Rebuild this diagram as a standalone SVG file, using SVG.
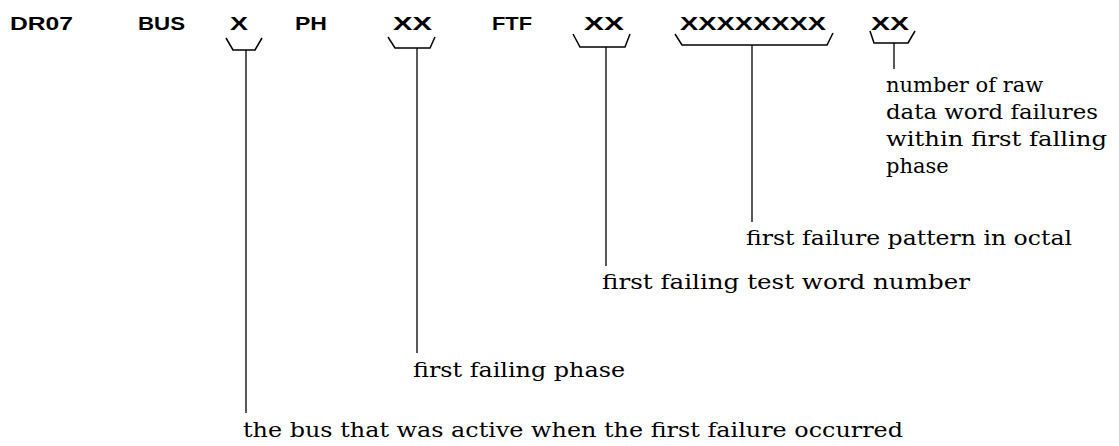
<svg xmlns="http://www.w3.org/2000/svg" width="1119" height="446" viewBox="0 0 1119 446">
  <style>
    .hdr { font-family: "Liberation Sans", Arial, sans-serif; font-weight: bold; font-size: 18px; fill: #000; }
    .lbl { font-family: "DejaVu Serif", "Liberation Serif", serif; font-size: 21px; fill: #000; }
    .brace { fill: none; stroke: #000; stroke-width: 1.5; stroke-linejoin: miter; }
    .lead { fill: none; stroke: #000; stroke-width: 1.3; }
  </style>
  <rect width="1119" height="446" fill="#fff"/>

  <!-- message fields -->
  <g id="field-dr07"><text class="hdr" x="10" y="30" textLength="63" lengthAdjust="spacingAndGlyphs">DR07</text></g>
  <g id="field-bus"><text class="hdr" x="138" y="30" textLength="47" lengthAdjust="spacingAndGlyphs">BUS</text></g>
  <g id="field-bus-value"><text class="hdr" x="230" y="30" textLength="18" lengthAdjust="spacingAndGlyphs">X</text></g>
  <g id="field-ph"><text class="hdr" x="295" y="30" textLength="32" lengthAdjust="spacingAndGlyphs">PH</text></g>
  <g id="field-ph-value"><text class="hdr" x="393" y="30" textLength="39" lengthAdjust="spacingAndGlyphs">XX</text></g>
  <g id="field-ftf"><text class="hdr" x="492" y="30" textLength="40" lengthAdjust="spacingAndGlyphs">FTF</text></g>
  <g id="field-ftf-value"><text class="hdr" x="584" y="30" textLength="40" lengthAdjust="spacingAndGlyphs">XX</text></g>
  <g id="field-pattern"><text class="hdr" x="680" y="30" textLength="146" lengthAdjust="spacingAndGlyphs">XXXXXXXX</text></g>
  <g id="field-count"><text class="hdr" x="871" y="30" textLength="38" lengthAdjust="spacingAndGlyphs">XX</text></g>

  <!-- descriptions -->
  <g id="desc-count">
    <text class="lbl" x="886" y="92">number of raw</text>
    <text class="lbl" x="886" y="119" textLength="212" lengthAdjust="spacingAndGlyphs">data word failures</text>
    <text class="lbl" x="886" y="146" textLength="221" lengthAdjust="spacingAndGlyphs">within first falling</text>
    <text class="lbl" x="886" y="173">phase</text>
  </g>
  <g id="desc-pattern"><text class="lbl" x="746" y="245" textLength="326" lengthAdjust="spacingAndGlyphs">first failure pattern in octal</text></g>
  <g id="desc-ftf"><text class="lbl" x="602" y="289" textLength="368" lengthAdjust="spacingAndGlyphs">first failing test word number</text></g>
  <g id="desc-phase"><text class="lbl" x="413" y="377" textLength="212" lengthAdjust="spacingAndGlyphs">first failing phase</text></g>
  <g id="desc-bus"><text class="lbl" x="243" y="437" textLength="660" lengthAdjust="spacingAndGlyphs">the bus that was active when the first failure occurred</text></g>

  <!-- braces and leader lines -->
  <g id="connectors">
    <path class="brace" d="M226,38 L233,50 L255,50 L262,38"/>
    <path class="lead" d="M246,50 V413"/>
    <path class="brace" d="M388,37 L395,48 L430,48 L435,37"/>
    <path class="lead" d="M417,48 V353"/>
    <path class="brace" d="M573,34 L580,47 L625,47 L630,34"/>
    <path class="lead" d="M606,47 V266"/>
    <path class="brace" d="M675,34 L682,45 L827,45 L833,33"/>
    <path class="lead" d="M752,45 V222"/>
    <path class="brace" d="M870,31 L874,43 L908,43 L915,31"/>
    <path class="lead" d="M894,43 V69" stroke-width="2.5"/>
  </g>
</svg>
